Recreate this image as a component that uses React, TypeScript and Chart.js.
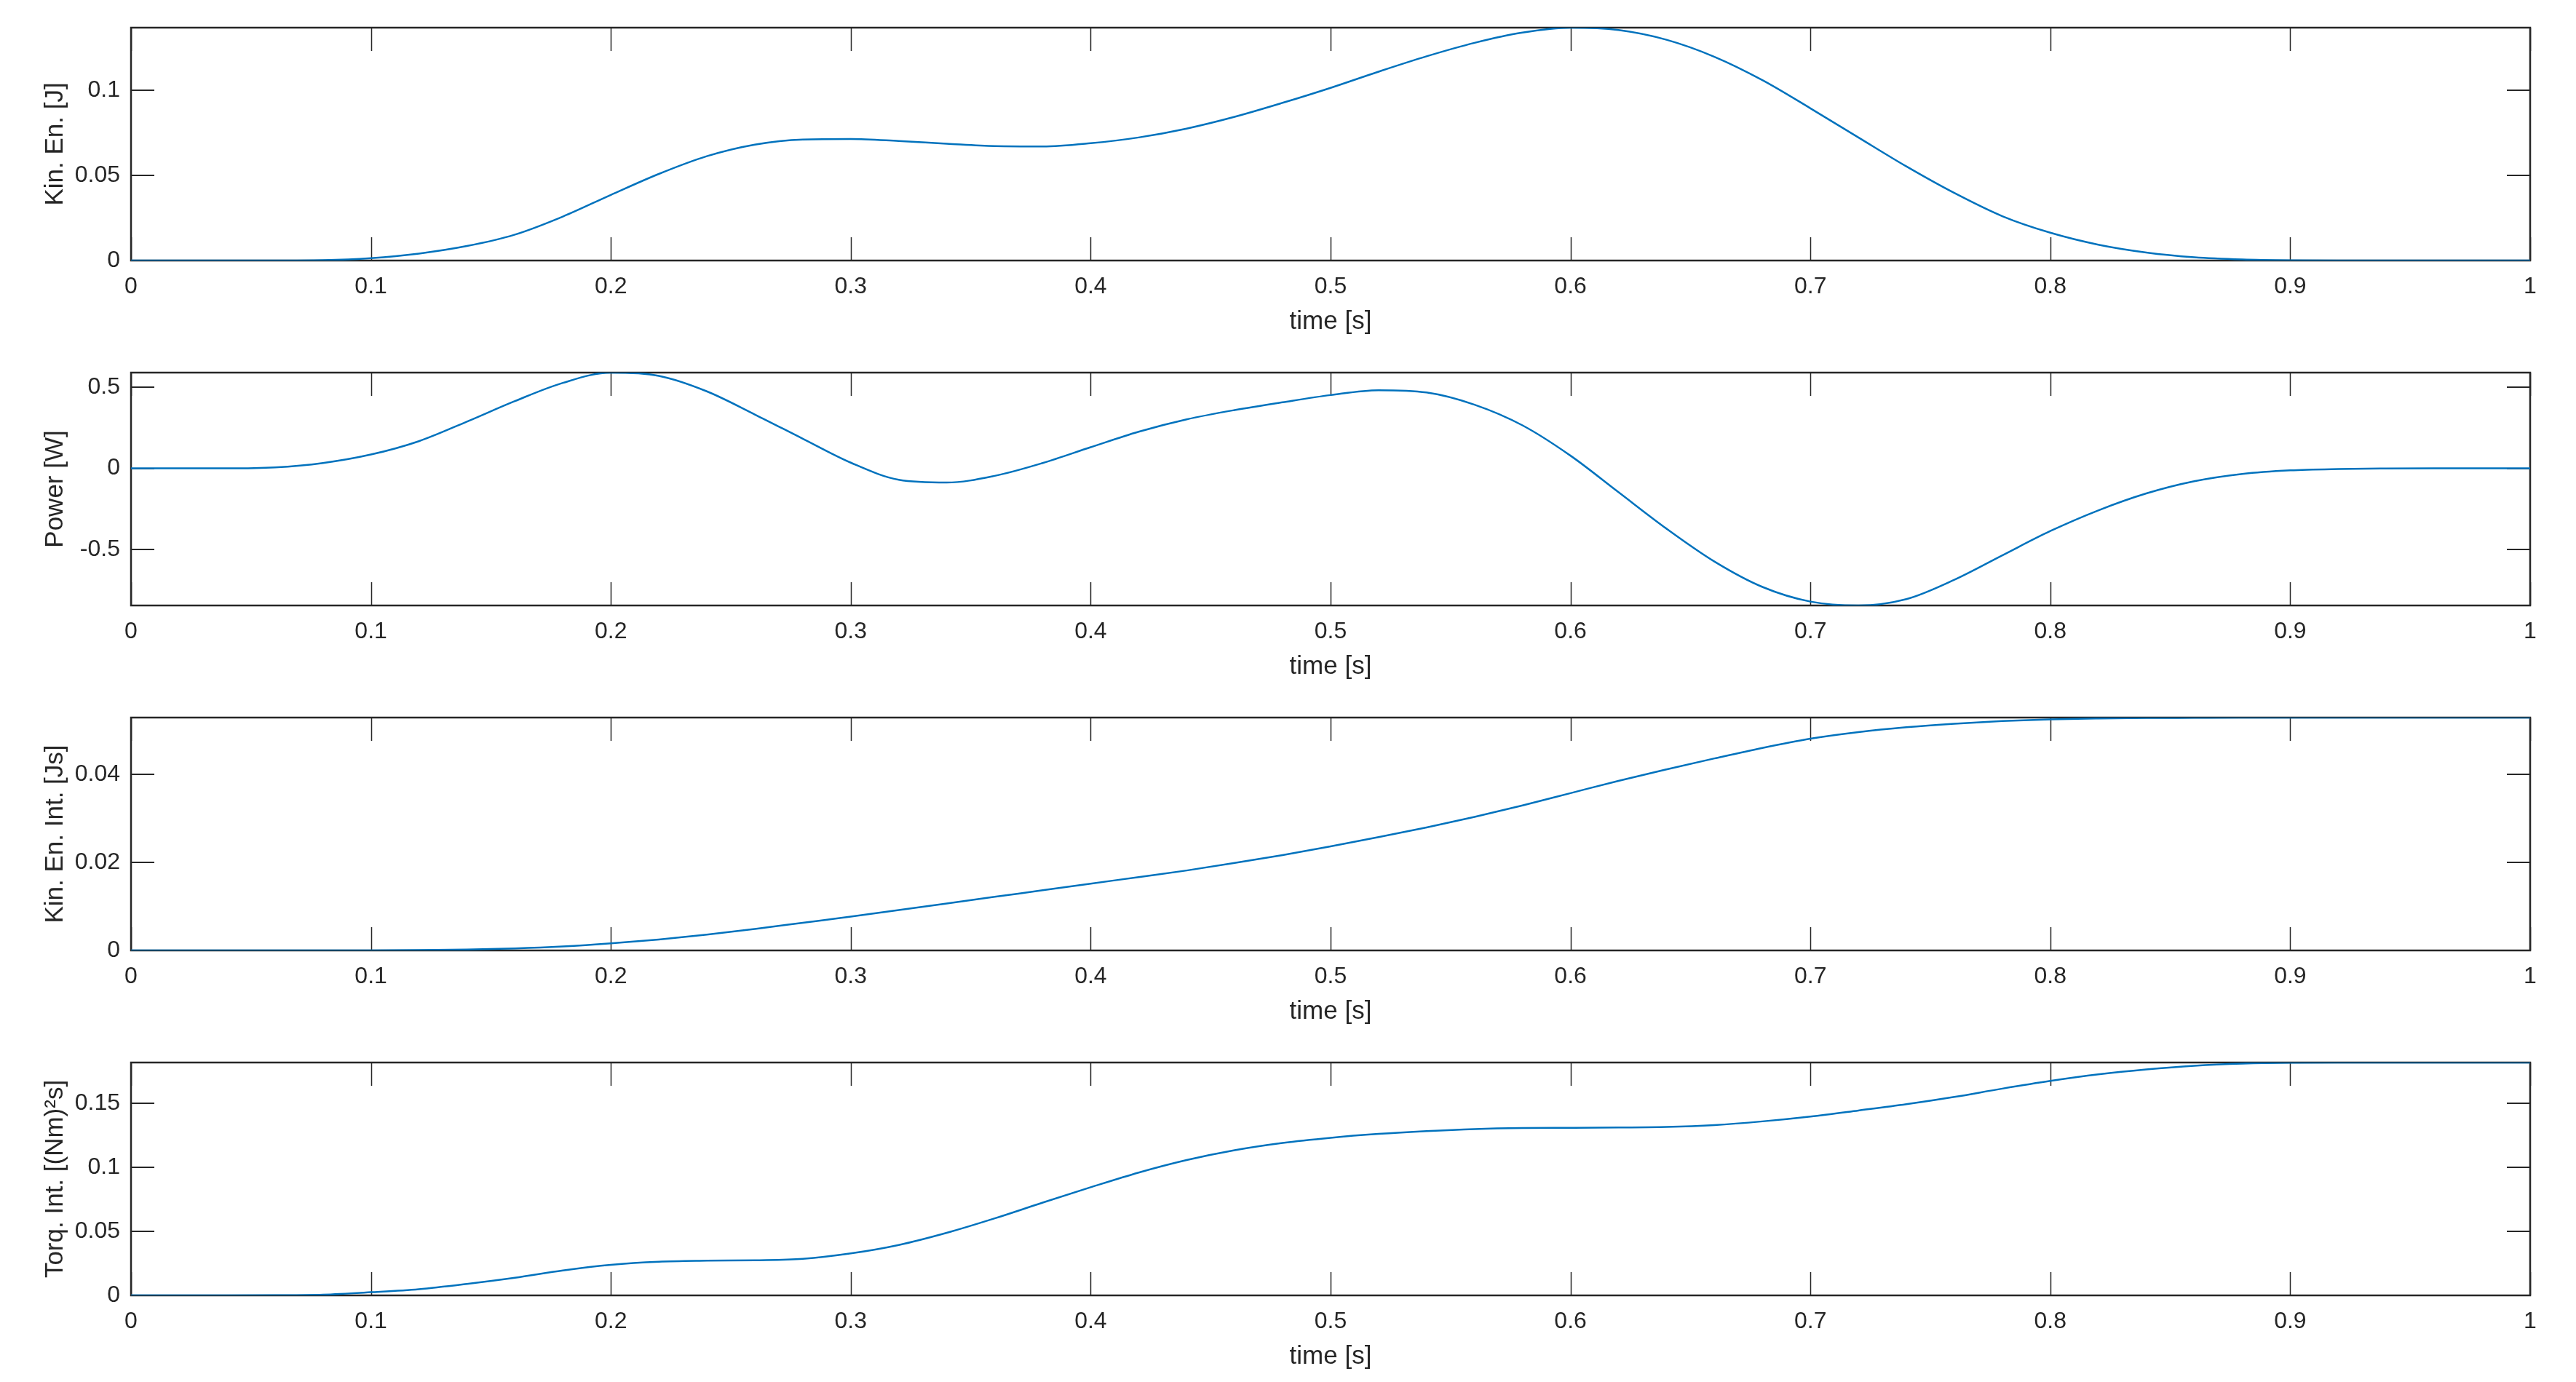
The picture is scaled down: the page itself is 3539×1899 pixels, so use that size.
import React, { useEffect, useRef } from 'react';
import { Chart, registerables } from 'chart.js';

Chart.register(...registerables);

// ---- data ----
const time = [
  0, 0.02, 0.04, 0.06, 0.08, 0.1, 0.12, 0.14, 0.16, 0.18,
  0.2, 0.22, 0.24, 0.26, 0.28, 0.3, 0.32, 0.34, 0.36, 0.38,
  0.4, 0.42, 0.44, 0.46, 0.48, 0.5, 0.52, 0.54, 0.56, 0.58,
  0.6, 0.62, 0.64, 0.66, 0.68, 0.7, 0.72, 0.74, 0.76, 0.78,
  0.8, 0.82, 0.84, 0.86, 0.88, 0.9, 0.92, 0.94, 0.96, 0.98, 1.0,
];

const kinEnergy = [
  0, 0, 0, 0, 0.0002, 0.0014, 0.0041, 0.0085, 0.0152, 0.0258,
  0.0385, 0.0508, 0.0612, 0.068, 0.071, 0.0713, 0.0701, 0.0685, 0.0671, 0.0669,
  0.0688, 0.0722, 0.0774, 0.0843, 0.0925, 0.1013, 0.1108, 0.1198, 0.1277, 0.1337,
  0.1366, 0.1352, 0.1295, 0.1195, 0.1058, 0.0893, 0.0722, 0.0552, 0.0396, 0.026,
  0.0163, 0.0093, 0.0047, 0.0019, 0.0006, 0.0001, 0, 0, 0, 0, 0,
];

const power = [
  0, 0, 0, 0.006, 0.033, 0.085, 0.167, 0.287, 0.413, 0.525,
  0.588, 0.568, 0.473, 0.331, 0.182, 0.035, -0.07, -0.087, -0.046, 0.033,
  0.13, 0.225, 0.301, 0.358, 0.406, 0.45, 0.48, 0.466, 0.391, 0.264,
  0.078, -0.146, -0.37, -0.572, -0.728, -0.818, -0.842, -0.803, -0.684, -0.534,
  -0.385, -0.258, -0.154, -0.079, -0.034, -0.012, -0.004, -0.001, 0, 0, 0,
];

const kinEnergyInt = [
  0, 0, 0, 0, 0, 0.00002, 0.00007, 0.0002, 0.00045, 0.0009,
  0.0016, 0.0025, 0.0036, 0.0049, 0.0063, 0.0077, 0.0092, 0.0107, 0.0122, 0.0137,
  0.0152, 0.0167, 0.0182, 0.0199, 0.0217, 0.0237, 0.0258, 0.028, 0.0304, 0.033,
  0.0358, 0.0386, 0.0412, 0.0437, 0.0461, 0.0482, 0.0497, 0.0508, 0.0516, 0.0522,
  0.0526, 0.0528, 0.0529, 0.05295, 0.053, 0.053, 0.053, 0.053, 0.053, 0.053, 0.053,
];

const torqueInt = [
  0, 0, 0, 0.0001, 0.0006, 0.0025, 0.0049, 0.009, 0.0138, 0.0195,
  0.0239, 0.0263, 0.0271, 0.0275, 0.0286, 0.0328, 0.0394, 0.0489, 0.0602, 0.0725,
  0.0845, 0.096, 0.1058, 0.1135, 0.1192, 0.1232, 0.1262, 0.1284, 0.13, 0.1308,
  0.131, 0.1312, 0.1316, 0.1331, 0.136, 0.1398, 0.1445, 0.1494, 0.1551, 0.1616,
  0.1676, 0.1727, 0.1766, 0.1795, 0.1812, 0.1819, 0.182, 0.182, 0.182, 0.182, 0.182,
];

const xTicks = [0, 0.1, 0.2, 0.3, 0.4, 0.5, 0.6, 0.7, 0.8, 0.9, 1];
const xTickLabels = ['0', '0.1', '0.2', '0.3', '0.4', '0.5', '0.6', '0.7', '0.8', '0.9', '1'];
const xTitle = 'time [s]';

const kinEnergyTicks = [0, 0.05, 0.1];
const kinEnergyTickLabels = ['0', '0.05', '0.1'];
const powerTicks = [-0.5, 0, 0.5];
const powerTickLabels = ['-0.5', '0', '0.5'];
const kinEnergyIntTicks = [0, 0.02, 0.04];
const kinEnergyIntTickLabels = ['0', '0.02', '0.04'];
const torqueIntTicks = [0, 0.05, 0.1, 0.15];
const torqueIntTickLabels = ['0', '0.05', '0.1', '0.15'];

const panels = [
  { title: 'Kin. En. [J]', values: kinEnergy, min: 0, max: 0.1366, ticks: kinEnergyTicks, tickLabels: kinEnergyTickLabels },
  { title: 'Power [W]', values: power, min: -0.842, max: 0.588, ticks: powerTicks, tickLabels: powerTickLabels },
  { title: 'Kin. En. Int. [Js]', values: kinEnergyInt, min: 0, max: 0.053, ticks: kinEnergyIntTicks, tickLabels: kinEnergyIntTickLabels },
  { title: 'Torq. Int. [(Nm)\u00B2s]', values: torqueInt, min: 0, max: 0.182, ticks: torqueIntTicks, tickLabels: torqueIntTickLabels },
];

// ---- styling ----
const W = 3539;
const PANEL_H = 474;
const AXIS_COLOR = '#262626';
const LINE_COLOR = '#0072BD';
const FONT = '"Liberation Sans", Arial, Helvetica, sans-serif';
const TICK_LEN = 32;

const boxPlugin = {
  id: 'matlabBox',
  beforeDatasetsDraw(chart: any) {
    const { ctx, chartArea } = chart;
    const { left, right, top, bottom } = chartArea;
    const xs = chart.scales.x;
    const ys = chart.scales.y;
    ctx.save();
    ctx.strokeStyle = AXIS_COLOR;
    ctx.lineCap = 'butt';
    ctx.lineWidth = 1.5;
    ctx.beginPath();
    xs.ticks.forEach((t: any) => {
      const px = Math.round(xs.getPixelForValue(t.value)) + 0.5;
      ctx.moveTo(px, bottom);
      ctx.lineTo(px, bottom - TICK_LEN);
      ctx.moveTo(px, top);
      ctx.lineTo(px, top + TICK_LEN);
    });
    ctx.stroke();
    ctx.lineWidth = 2;
    ctx.beginPath();
    ys.ticks.forEach((t: any) => {
      const py = Math.round(ys.getPixelForValue(t.value));
      ctx.moveTo(left, py);
      ctx.lineTo(left + TICK_LEN, py);
      ctx.moveTo(right, py);
      ctx.lineTo(right - TICK_LEN, py);
    });
    ctx.stroke();
    ctx.lineWidth = 2.5;
    ctx.strokeRect(left, top, right - left, bottom - top);
    ctx.restore();
  },
};

function Panel({ panel, index }: { panel: any; index: number }) {
  const ref = useRef<HTMLCanvasElement | null>(null);
  useEffect(() => {
    if (!ref.current) return;
    const data = time.map((t, i) => ({ x: t, y: panel.values[i] }));
    const chart = new Chart(ref.current, {
      type: 'line',
      data: {
        datasets: [
          {
            data,
            borderColor: LINE_COLOR,
            borderWidth: 2.5,
            pointRadius: 0,
            fill: false,
            cubicInterpolationMode: 'monotone',
          },
        ],
      },
      options: {
        animation: false,
        responsive: false,
        devicePixelRatio: 1,
        events: [],
        layout: { padding: { top: 38, right: 63, left: 0, bottom: 0 } },
        plugins: { legend: { display: false }, tooltip: { enabled: false } },
        scales: {
          x: {
            type: 'linear',
            position: 'bottom',
            min: 0,
            max: 1,
            afterBuildTicks: (scale: any) => {
              scale.ticks = xTicks.map((v) => ({ value: v }));
            },
            afterFit: (scale: any) => {
              scale.height = 116;
            },
            grid: { display: false, drawTicks: false },
            border: { display: false },
            ticks: {
              autoSkip: false,
              maxRotation: 0,
              minRotation: 0,
              padding: 17,
              color: AXIS_COLOR,
              font: { family: FONT, size: 32 },
              callback: (_v: any, i: number) => xTickLabels[i],
            },
            title: {
              display: true,
              text: xTitle,
              color: AXIS_COLOR,
              font: { family: FONT, size: 35 },
              padding: { top: 0, bottom: 11 },
            },
          },
          y: {
            type: 'linear',
            position: 'left',
            min: panel.min,
            max: panel.max,
            afterBuildTicks: (scale: any) => {
              scale.ticks = panel.ticks.map((v: number) => ({ value: v }));
            },
            afterFit: (scale: any) => {
              scale.width = 180;
            },
            grid: { display: false, drawTicks: false },
            border: { display: false },
            ticks: {
              padding: 15,
              color: AXIS_COLOR,
              font: { family: FONT, size: 32 },
              callback: (_v: any, i: number) => panel.tickLabels[i],
            },
            title: {
              display: true,
              text: panel.title,
              color: AXIS_COLOR,
              font: { family: FONT, size: 35 },
              padding: { top: 55, bottom: 0 },
            },
          },
        },
      },
      plugins: [boxPlugin],
    } as any);
    return () => chart.destroy();
  }, [panel]);
  return (
    <canvas
      ref={ref}
      width={W}
      height={PANEL_H}
      style={{ position: 'absolute', left: 0, top: index * PANEL_H, width: W, height: PANEL_H, display: 'block' }}
    />
  );
}

export default function App() {
  return (
    <div style={{ position: 'absolute', left: 0, top: 0, width: W, height: 1899, background: '#ffffff', overflow: 'hidden' }}>
      {panels.map((p, i) => (
        <Panel key={i} panel={p} index={i} />
      ))}
    </div>
  );
}
